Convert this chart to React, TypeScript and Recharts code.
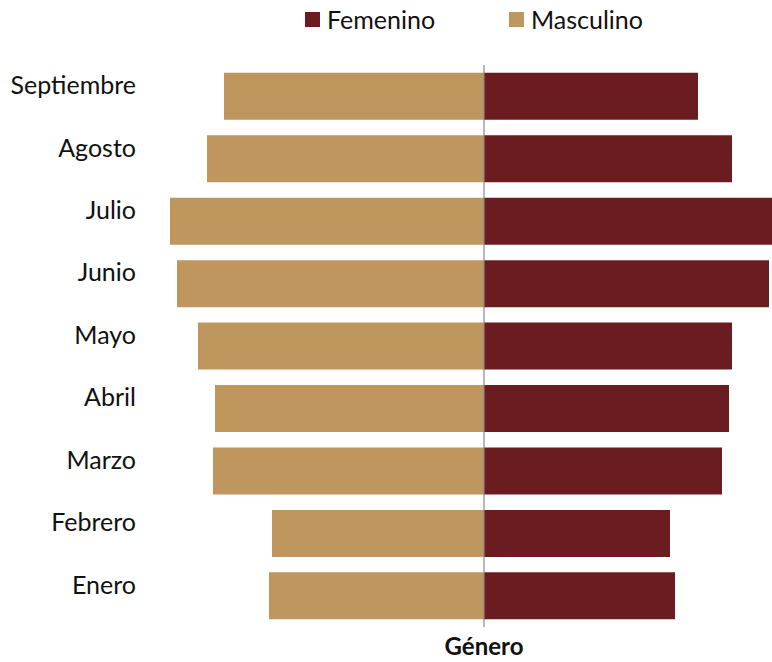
import React from 'react';
import { BarChart, Bar, XAxis, YAxis, ReferenceLine, Legend } from 'recharts';

const months = ['Septiembre', 'Agosto', 'Julio', 'Junio', 'Mayo', 'Abril', 'Marzo', 'Febrero', 'Enero'];
const femenino = [214, 248, 292, 285, 248, 245, 238, 186, 191];
const masculino = [260, 277, 314, 307, 286, 269, 271, 212, 215];

const data = months.map((m, i) => ({ month: m, Femenino: femenino[i], Masculino: -masculino[i] }));

const FONT = 'Lato, "Open Sans", sans-serif';
const COLOR_F = '#6B1C21';
const COLOR_M = '#BF965E';

const renderLegend = () => (
  <div style={{ height: 30, position: 'relative', fontFamily: FONT, fontSize: 25, color: '#111' }}>
    {[
      { name: 'Femenino', color: COLOR_F, left: 305 },
      { name: 'Masculino', color: COLOR_M, left: 509 },
    ].map((it) => (
      <div key={it.name} style={{ position: 'absolute', left: it.left, top: 0, display: 'flex', alignItems: 'center', height: 30 }}>
        <span style={{ display: 'inline-block', width: 15, height: 15, background: it.color, marginRight: 7 }} />
        <span>{it.name}</span>
      </div>
    ))}
  </div>
);

export default function App() {
  return (
    <div style={{ position: 'absolute', left: 0, top: 0, width: 772, height: 662, background: '#fff' }}>
      <BarChart
        width={772}
        height={662}
        data={data}
        layout="vertical"
        stackOffset="sign"
        barCategoryGap="12.5%"
        margin={{ top: 35, right: 0, bottom: 35, left: 0 }}
      >
        <Legend verticalAlign="top" content={renderLegend} wrapperStyle={{ top: 4, left: 0, width: 772 }} />
        <XAxis type="number" domain={[-324, 288]} allowDataOverflow hide />
        <YAxis
          type="category"
          dataKey="month"
          width={160}
          axisLine={false}
          tickLine={false}
          tickMargin={18}
          tick={{ fontFamily: FONT, fontSize: 25, fill: '#111', dy: -11 }}
        />
        <Bar dataKey="Masculino" stackId="a" fill={COLOR_M} isAnimationActive={false} />
        <Bar dataKey="Femenino" stackId="a" fill={COLOR_F} isAnimationActive={false} />
        <ReferenceLine
          x={0}
          stroke="#888"
          strokeWidth={1.2}
          label={{ value: 'Género', position: 'bottom', offset: 11, fontFamily: FONT, fontSize: 24, fontWeight: 'bold', fill: '#111' }}
        />
      </BarChart>
    </div>
  );
}
